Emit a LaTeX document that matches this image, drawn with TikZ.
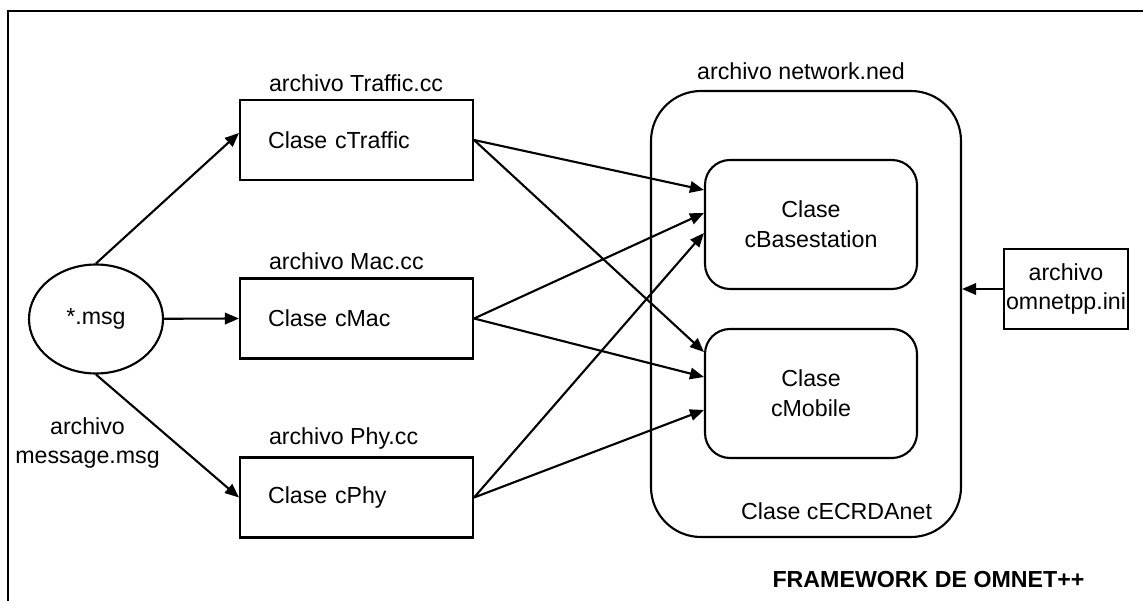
\documentclass[tikz,border=0pt]{standalone}
\usepackage{fontspec}
\setmainfont{Liberation Sans}
\usetikzlibrary{positioning,shapes.geometric,arrows.meta}
\tikzset{box/.style = {draw,minimum width=4.66cm,minimum height=1.6cm,text width=3.54cm,inner xsep=0.56cm,align=left}}
\tikzset{rbox/.style = {draw,rounded corners=0.5cm,minimum width=4.24cm,minimum height=2.58cm,align=center}}
\tikzset{lbl/.style = {inner sep=0pt,align=center}}
\tikzset{link/.style = {-{Triangle[length=0.28cm,width=0.23cm]}}}

\begin{document}
\begin{tikzpicture}[line width=1.2pt, every node/.style={font=\fontsize{13.2}{17}\selectfont}]
                    \clip (0,0) rectangle (22.86,12);
                    \draw (0.16,-1) rectangle (24,11.78);

                    \node [draw,ellipse,inner sep=0pt,minimum width=2.68cm,minimum height=2.18cm] (msg) at (1.92,5.62) {*.msg};
                    \node [lbl] (msglbl) at (1.75,3.14) {archivo\\message.msg};

                    \node [box] (traffic) at (7.13,9.2)  {Clase cTraffic};
                    \node [box] (mac)     at (7.13,5.63) {Clase cMac};
                    \node [box] (phy)     at (7.13,2.05) {Clase cPhy};
                    \node [lbl,anchor=south west] (trafficlbl) at ([xshift=0.58cm,yshift=0.13cm]traffic.north west) {archivo Traffic.cc};
                    \node [lbl,anchor=south west] (maclbl)     at ([xshift=0.58cm,yshift=0.13cm]mac.north west) {archivo Mac.cc};
                    \node [lbl,anchor=south west] (phylbl)     at ([xshift=0.58cm,yshift=0.13cm]phy.north west) {archivo Phy.cc};

                    \node [draw,rounded corners=1cm,minimum width=6.2cm,minimum height=8.92cm] (net) at (16.12,5.72) {};
                    \node [lbl,anchor=south] (netlbl) at ([xshift=-0.1cm,yshift=0.19cm]net.north) {archivo network.ned};
                    \node [lbl,anchor=south east] (netcls) at ([xshift=-0.58cm,yshift=0.35cm]net.south east) {Clase cECRDAnet};
                    \node [rbox] (bs)  at (16.22,7.51) {Clase\\cBasestation};
                    \node [rbox] (mob) at (16.22,4.13) {Clase\\cMobile};

                    \node [draw,minimum width=2.48cm,minimum height=1.6cm,inner sep=0pt,align=center] (ini) at (21.32,6.22) {archivo\\omnetpp.ini};

                    \node [lbl,font=\fontsize{13.2}{17}\selectfont\bfseries] (fw) at (18.57,0.4) {FRAMEWORK DE OMNET++};

                    \draw [link] (msg.north) -- ([yshift=0.14cm]traffic.west);
                    \draw [link] (msg) -- (mac.west);
                    \draw [link] (msg.south) -- (phy.west);

                    \draw [link] (traffic.east) -- ([yshift=0.69cm]bs.west);
                    \draw [link] (traffic.east) -- ([yshift=0.83cm]mob.west);
                    \draw [link] (mac.east) -- ([yshift=0.23cm]bs.west);
                    \draw [link] (mac.east) -- ([yshift=0.33cm]mob.west);
                    \draw [link] (phy.east) -- ([yshift=-0.17cm]bs.west);
                    \draw [link] (phy.east) -- ([yshift=-0.33cm]mob.west);

                    \draw [link] (ini.west) -- (ini.west -| net.east);
                \end{tikzpicture}
\end{document}
